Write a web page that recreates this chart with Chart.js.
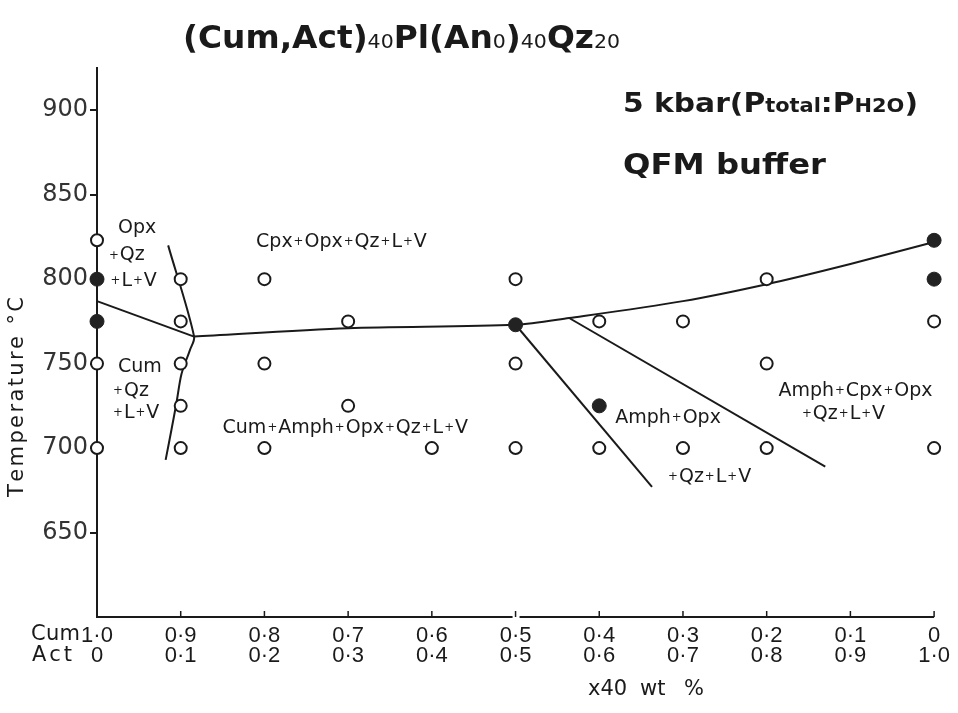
<!DOCTYPE html>
<html>
<head>
<meta charset="utf-8">
<script src="https://cdn.jsdelivr.net/npm/chart.js@4"></script>
<style>
  body { margin: 0; background: #fff; }
  #wrap { width: 958px; height: 713px; }
</style>
</head>
<body>
<div id="wrap"><canvas id="phase"></canvas></div>
<script>
// x = Act fraction, y = temperature (°C)
const cumLabels = ['1·0', '0·9', '0·8', '0·7', '0·6', '0·5', '0·4', '0·3', '0·2', '0·1', '0'];
const actLabels = ['0', '0·1', '0·2', '0·3', '0·4', '0·5', '0·6', '0·7', '0·8', '0·9', '1·0'];
const yTicks = [650, 700, 750, 800, 850, 900];

// run results
const openAct = [0, 0, 0, 0.1, 0.1, 0.1, 0.1, 0.1, 0.2, 0.2, 0.2, 0.3, 0.3, 0.4, 0.5, 0.5, 0.5, 0.6, 0.6, 0.7, 0.7, 0.8, 0.8, 0.8, 1.0, 1.0];
const openT   = [823, 750, 700, 800, 775, 750, 725, 700, 800, 750, 700, 775, 725, 700, 800, 750, 700, 775, 700, 775, 700, 800, 750, 700, 775, 700];
const filledAct = [0, 0, 0.5, 0.6, 1.0, 1.0];
const filledT   = [800, 775, 773, 725, 823, 800];

// phase boundaries
const opxCumAct = [0, 0.116];
const opxCumT   = [787, 766];
const solidusAct = [0.116, 0.3, 0.5, 0.564, 0.7, 0.8, 0.9, 1.0];
const solidusT   = [766, 771, 773, 777, 787, 797, 809, 822];
const cumOutAct = [0.085, 0.116, 0.111, 0.101, 0.095, 0.089, 0.082];
const cumOutT   = [820, 766, 758, 744, 727, 711, 693];
const amphOpxAct = [0.5, 0.663];
const amphOpxT   = [773, 677];
const cpxInAct = [0.564, 0.87];
const cpxInT   = [777, 689];

// field labels
const fieldText = ['Opx', '+Qz', '+L+V', 'Cum', '+Qz', '+L+V', 'Cpx+Opx+Qz+L+V', 'Cum+Amph+Opx+Qz+L+V',
                   'Amph+Opx', '+Qz+L+V', 'Amph+Cpx+Opx', '+Qz+L+V'];
const fieldAct  = [0.025, 0.013, 0.015, 0.025, 0.018, 0.018, 0.19, 0.150, 0.619, 0.681, 0.814, 0.841];
const fieldT    = [830, 814, 799, 748, 734, 721, 822, 712, 718, 683, 734, 720];

const pts = (xs, ys) => xs.map((x, i) => ({x: x, y: ys[i]}));
const FONT = '"DejaVu Sans", sans-serif';
const SANS = '"Liberation Sans", Arial, sans-serif';

function lineSet(xs, ys, tension) {
  return {
    type: 'line', data: pts(xs, ys), borderColor: '#1a1a1a', borderWidth: 2,
    pointRadius: 0, tension: tension || 0, fill: false, clip: false, order: 2
  };
}

// draw text where '+' is a small plus
function drawPlusText(ctx, str, x, y, size) {
  const parts = str.split('+');
  let cx = x;
  parts.forEach((p, i) => {
    if (i > 0) {
      ctx.font = (size * 0.62) + 'px ' + FONT;
      ctx.fillText('+', cx + 1, y);
      cx += ctx.measureText('+').width + 2;
    }
    ctx.font = size + 'px ' + FONT;
    ctx.fillText(p, cx, y);
    cx += ctx.measureText(p).width;
  });
}

// letters spread out to span x0..x1
function drawSpaced(ctx, text, font, x0, x1, y) {
  ctx.font = font;
  const chars = [...text];
  const ws = chars.map(c => ctx.measureText(c).width);
  const gap = (x1 - x0 - ws.reduce((a, b) => a + b, 0)) / (chars.length - 1);
  let cx = x0;
  chars.forEach((c, i) => { ctx.fillText(c, cx, y); cx += ws[i] + gap; });
}

// runs of [text, font], scaled together to span x0..x1
function drawRunsFit(ctx, runs, x0, x1, y) {
  let total = 0;
  runs.forEach(r => { ctx.font = r[1]; total += ctx.measureText(r[0]).width; });
  ctx.save();
  ctx.translate(x0, y);
  ctx.scale((x1 - x0) / total, 1);
  let cx = 0;
  runs.forEach(r => { ctx.font = r[1]; ctx.fillText(r[0], cx, 0); cx += ctx.measureText(r[0]).width; });
  ctx.restore();
}

const extras = {
  id: 'extras',
  afterDraw(chart) {
    const ctx = chart.ctx, xs = chart.scales.x, ys = chart.scales.y;
    const y0 = ys.getPixelForValue(600);
    ctx.save();
    ctx.strokeStyle = '#1a1a1a';
    ctx.lineWidth = 2;
    // x axis line with a small break at 0.5
    const xb = xs.getPixelForValue(0.5);
    ctx.beginPath();
    ctx.moveTo(xs.getPixelForValue(0) - 1, y0); ctx.lineTo(xb - 3, y0);
    ctx.moveTo(xb + 4, y0); ctx.lineTo(xs.getPixelForValue(1), y0);
    ctx.stroke();
    // inward ticks
    ctx.lineWidth = 1.5;
    for (let i = 1; i <= 10; i++) {
      const px = xs.getPixelForValue(i / 10);
      ctx.beginPath(); ctx.moveTo(px, y0); ctx.lineTo(px, y0 - 6); ctx.stroke();
    }

    ctx.fillStyle = '#1a1a1a';
    ctx.textBaseline = 'middle';
    ctx.textAlign = 'left';
    // row prefixes
    drawSpaced(ctx, 'Cum', '21px ' + FONT, 31, 80, 635);
    drawSpaced(ctx, 'Act', '21px ' + FONT, 32, 72, 656);
    // x title
    ctx.font = '21px ' + FONT;
    ctx.fillText('x40', 588, 690);
    ctx.fillText('wt', 640, 690);
    ctx.fillText('%', 684, 690);

    // field labels
    fieldText.forEach((t, i) => {
      drawPlusText(ctx, t, xs.getPixelForValue(fieldAct[i]), ys.getPixelForValue(fieldT[i]), 19);
    });

    // y title
    ctx.save();
    ctx.translate(18, 397);
    ctx.rotate(-Math.PI / 2);
    drawSpaced(ctx, 'Temperature °C', '21px ' + FONT, -100, 100, 0);
    ctx.restore();

    // heading
    ctx.textBaseline = 'alphabetic';
    const big = 'bold 32px ' + FONT, sub = '20px ' + FONT;
    drawRunsFit(ctx, [['(Cum,Act)', big], ['40', sub], ['Pl(An', big], ['0', sub], [')', big],
                      ['40', sub], ['Qz', big], ['20', sub]], 183, 620, 48);
    const mid = 'bold 27px ' + FONT, sm = 'bold 19px ' + FONT;
    drawRunsFit(ctx, [['5 kbar(', mid], ['P', mid], ['total', sm], [':', mid], ['P', mid],
                      ['H2O', sm], [')', mid]], 623, 918, 112);
    drawRunsFit(ctx, [['QFM buffer', 'bold 29px ' + FONT]], 623, 826, 174);
    ctx.restore();
  }
};

new Chart(document.getElementById('phase'), {
  type: 'scatter',
  data: {
    datasets: [
      lineSet(opxCumAct, opxCumT),
      lineSet(solidusAct, solidusT, 0.3),
      lineSet(cumOutAct, cumOutT, 0.3),
      lineSet(amphOpxAct, amphOpxT),
      lineSet(cpxInAct, cpxInT),
      {
        data: pts(openAct, openT), pointRadius: 6, pointBorderWidth: 2, clip: false,
        pointBackgroundColor: '#fff', pointBorderColor: '#1a1a1a', order: 1
      },
      {
        data: pts(filledAct, filledT), pointRadius: 7, pointBorderWidth: 1, clip: false,
        pointBackgroundColor: '#222', pointBorderColor: '#222', order: 0
      }
    ]
  },
  options: {
    responsive: true,
    maintainAspectRatio: false,
    animation: false,
    layout: { padding: { top: 68, right: 22, left: 0, bottom: 0 } },
    plugins: { legend: { display: false }, tooltip: { enabled: false } },
    scales: {
      x: {
        type: 'linear', min: 0, max: 1,
        afterFit: s => { s.height = 96; },
        afterBuildTicks: s => { s.ticks = actLabels.map((_, i) => ({ value: i / 10 })); },
        ticks: {
          padding: 8, color: '#1a1a1a', maxRotation: 0, autoSkip: false,
          font: { family: SANS, size: 22, lineHeight: 0.95 },
          callback: (v, i) => [cumLabels[i], actLabels[i]]
        },
        grid: { display: false, drawTicks: false },
        border: { display: false }
      },
      y: {
        type: 'linear', min: 600, max: 925,
        afterFit: s => { s.width = 97; },
        afterBuildTicks: s => { s.ticks = yTicks.map(v => ({ value: v })); },
        ticks: {
          padding: 2, color: '#333',
          font: { family: FONT, size: 24 }
        },
        grid: { drawOnChartArea: false, drawTicks: true, tickLength: 7, color: '#1a1a1a', lineWidth: 2 },
        border: { display: true, color: '#1a1a1a', width: 2 }
      }
    }
  },
  plugins: [extras]
});
</script>
</body>
</html>
